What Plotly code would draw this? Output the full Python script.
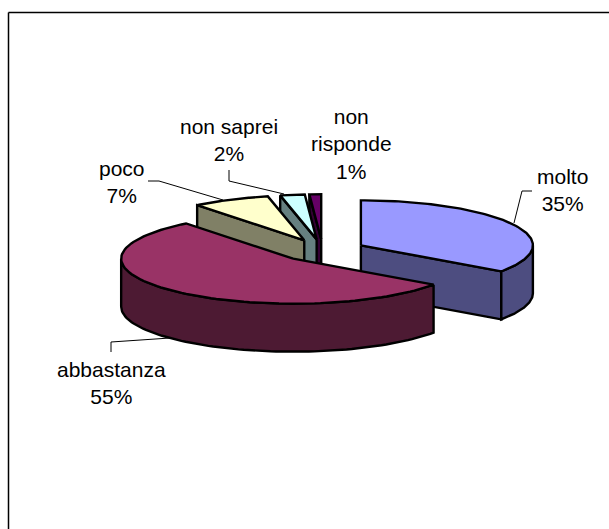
import numpy as np
import plotly.graph_objects as go

categories = ["molto", "abbastanza", "poco", "non saprei", "non risponde"]
values = [34.8, 54.5, 7.3, 2.3, 1.1]
percent_labels = ["35%", "55%", "7%", "2%", "1%"]
top_colors = ["#9999FF", "#993366", "#FFFFCC", "#CCFFFF", "#660066"]
side_colors = ["#4D4D80", "#4D1A33", "#808066", "#668080", "#330033"]

# pie geometry, in page pixels
CX, CY = 322.7, 250.5
RX, RY = 172, 45
DEPTH = 48
EXPLODE = 0.25

# label centre and leader line for each slice
label_text = ["molto", "abbastanza", "poco", "non saprei", "non<br>risponde"]
label_x = [562, 111, 122, 229, 351]
label_y = [190, 383, 182, 139.5, 144]
leader_x = [[514, 522, 532], [111, 111, 170], [148, 159, 223], [229, 229, 284], None]
leader_y = [[223, 191, 191], [352, 342, 338], [181, 181, 200], [170, 181, 194], None]


def point(cx, cy, deg):
    a = np.radians(deg)
    return cx + RX * np.sin(a), cy - RY * np.cos(a)


def add_poly(fig, xs, ys, color):
    fig.add_trace(go.Scatter(
        x=list(xs) + [xs[0]], y=list(ys) + [ys[0]], mode="lines", fill="toself",
        fillcolor=color, line=dict(color="black", width=2.4),
        hoverinfo="skip", showlegend=False,
    ))


def add_slice(fig, start, end, top, side):
    mid = np.radians((start + end) / 2)
    cx = CX + EXPLODE * RX * np.sin(mid)
    cy = CY - EXPLODE * RY * np.cos(mid)

    # flat walls, only when they face the viewer
    for deg, visible in ((start, np.sin(np.radians(start)) < -1e-6),
                         (end, np.sin(np.radians(end)) > 1e-6)):
        if visible:
            px, py = point(cx, cy, deg)
            add_poly(fig, [cx, px, px, cx], [cy, py, py + DEPTH, cy + DEPTH], side)

    # outer wall, front half of the rim only
    lo, hi = max(start, 90), min(end, 270)
    if hi > lo:
        px, py = point(cx, cy, np.linspace(lo, hi, 80))
        add_poly(fig, np.r_[px, px[::-1]], np.r_[py, py[::-1] + DEPTH], side)

    # top face
    px, py = point(cx, cy, np.linspace(start, end, 100))
    add_poly(fig, np.r_[cx, px], np.r_[cy, py], top)


fig = go.Figure()

edges = np.r_[0, np.cumsum(values)] / sum(values) * 360
for i in [4, 3, 2, 0, 1]:  # back to front
    add_slice(fig, edges[i], edges[i + 1], top_colors[i], side_colors[i])

for lx, ly in zip(leader_x, leader_y):
    if lx:
        fig.add_trace(go.Scatter(x=lx, y=ly, mode="lines", line=dict(color="black", width=1),
                                 hoverinfo="skip", showlegend=False))

for i in range(len(categories)):
    fig.add_annotation(x=label_x[i], y=label_y[i], xref="x", yref="y", showarrow=False,
                       text=f"{label_text[i]}<br>{percent_labels[i]}", align="center",
                       font=dict(family="Liberation Sans", size=21, color="black"))

# chart frame: only the top and left edges are in the picture
fig.add_shape(type="line", x0=8.5, x1=609, y0=12.5, y1=12.5, xref="x", yref="y",
              line=dict(color="black", width=1.5))
fig.add_shape(type="line", x0=8.5, x1=8.5, y0=12.5, y1=529, xref="x", yref="y",
              line=dict(color="black", width=1.5))

fig.update_layout(
    width=609, height=529, margin=dict(l=0, r=0, t=0, b=0),
    paper_bgcolor="white", plot_bgcolor="white", showlegend=False,
    xaxis=dict(range=[0, 609], visible=False, fixedrange=True),
    yaxis=dict(range=[529, 0], visible=False, fixedrange=True),
)
# the page's default body margin would push the figure 8px in
fig.write_html("out.html", config={"displayModeBar": False},
               post_script="document.body.style.margin='0';document.body.style.overflow='hidden';")
